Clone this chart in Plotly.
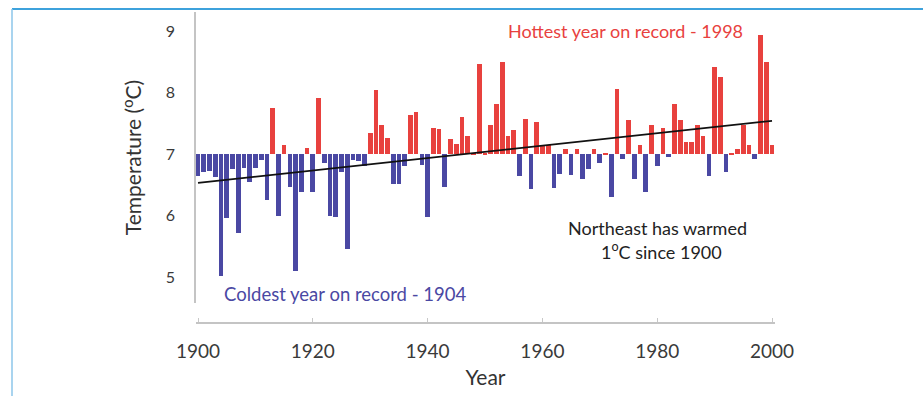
import plotly.graph_objects as go

# Annual mean temperature, Northeast US, 1900-2000 (deg C)
years = list(range(1900, 2001))
temps = [
    6.65, 6.70, 6.72, 6.62, 5.02, 5.96, 6.75, 5.72, 6.78, 6.54,  # 1900s
    6.78, 6.90, 6.25, 7.75, 6.00, 7.15, 6.46, 5.10, 6.38, 7.10,  # 1910s
    6.38, 7.91, 6.85, 6.00, 5.98, 6.70, 5.45, 6.90, 6.88, 6.80,  # 1920s
    7.34, 8.04, 7.48, 7.26, 6.52, 6.52, 6.80, 7.64, 7.69, 6.82,  # 1930s
    5.98, 7.43, 7.40, 6.46, 7.25, 7.17, 7.60, 7.30, 7.02, 8.46,  # 1940s
    7.02, 7.48, 7.82, 8.49, 7.30, 7.39, 6.65, 7.57, 6.43, 7.52,  # 1950s
    7.15, 7.15, 6.45, 6.68, 7.08, 6.66, 7.08, 6.59, 6.75, 7.08,  # 1960s
    6.85, 7.02, 6.30, 8.06, 6.92, 7.55, 6.60, 7.15, 6.38, 7.47,  # 1970s
    6.80, 7.43, 6.95, 7.81, 7.55, 7.20, 7.20, 7.48, 7.30, 6.65,  # 1980s
    8.41, 8.25, 6.70, 7.02, 7.08, 7.47, 7.15, 6.92, 8.94, 8.50,  # 1990s
    7.15,                                                        # 2000
]
baseline = 7.0

# Linear trend over the century
trend_years = [1900, 2000]
trend_values = [6.53, 7.54]

x_ticks = [1900, 1920, 1940, 1960, 1980, 2000]
y_ticks = [5, 6, 7, 8, 9]

RED = "#e8413e"
BLUE = "#4a48a3"
FONT = "Lato"
W, H = 923, 396

bar_colors = [RED if t >= baseline else BLUE for t in temps]

fig = go.Figure()
fig.add_trace(go.Bar(
    x=years,
    y=[t - baseline for t in temps],
    base=baseline,
    marker=dict(color=bar_colors, line=dict(width=0)),
    width=0.82,
    hovertemplate="%{x}: %{customdata:.2f} °C<extra></extra>",
    customdata=temps,
))
fig.add_trace(go.Scatter(
    x=trend_years, y=trend_values, mode="lines",
    line=dict(color="#111111", width=1.8),
    hoverinfo="skip", cliponaxis=False,
))


def note(text, px, py, color, size=18):
    """Centered text label placed at pixel position (px, py) of the figure."""
    return dict(text=text, x=px / W, y=1 - py / H, xref="paper", yref="paper",
                xanchor="center", yanchor="middle", showarrow=False,
                font=dict(size=size, color=color))


fig.update_layout(
    width=W, height=H,
    margin=dict(l=0, r=0, t=0, b=0),
    paper_bgcolor="white", plot_bgcolor="white",
    showlegend=False,
    bargap=0,
    font=dict(family=FONT, color="#3a3a3a"),
    xaxis=dict(
        domain=[196 / W, 775 / W],
        range=[1899.65, 2000.52],
        anchor="free", position=1 - 323 / H,
        automargin=False,
        tickvals=x_ticks, ticktext=[str(v) for v in x_ticks],
        tickfont=dict(size=19, color="#3a3a3a"),
        ticks="inside", ticklen=4, tickcolor="#c8c8c8", tickwidth=1,
        ticklabelstandoff=11,
        showline=True, linecolor="#c4c4c4", linewidth=2.2,
        showgrid=False, zeroline=False,
        title=dict(text="Year", font=dict(size=21, color="#333333"), standoff=8),
    ),
    yaxis=dict(
        domain=[1 - 303 / H, 1 - 12 / H],
        range=[4.577, 9.31],
        automargin=False,
        tickvals=y_ticks, ticktext=[str(v) for v in y_ticks],
        tickfont=dict(size=16, color="#3a3a3a"),
        ticks="", ticklabelstandoff=16,
        showline=True, linecolor="#c4c4c4", linewidth=1.5,
        showgrid=False, zeroline=False,
        title=dict(text="Temperature (<sup>o</sup>C)", font=dict(size=21, color="#333333"),
                   standoff=18),
    ),
    annotations=[
        note("Hottest year on record - 1998", 625, 31, RED),
        note("Coldest year on record - 1904", 345, 294, BLUE, size=18.5),
        note("Northeast has warmed", 657, 228, "#222222"),
        note("1<sup>o</sup>C since 1900", 661, 251, "#222222"),
    ],
    shapes=[
        # light blue frame edges
        dict(type="line", xref="paper", yref="paper",
             x0=12 / W, x1=1, y0=1 - 9 / H, y1=1 - 9 / H,
             line=dict(color="#3ea2dc", width=1.8)),
        dict(type="line", xref="paper", yref="paper",
             x0=12 / W, x1=12 / W, y0=0, y1=1 - 9 / H,
             line=dict(color="#8cc6ea", width=1.5)),
    ],
)

fig.write_html("out.html")
